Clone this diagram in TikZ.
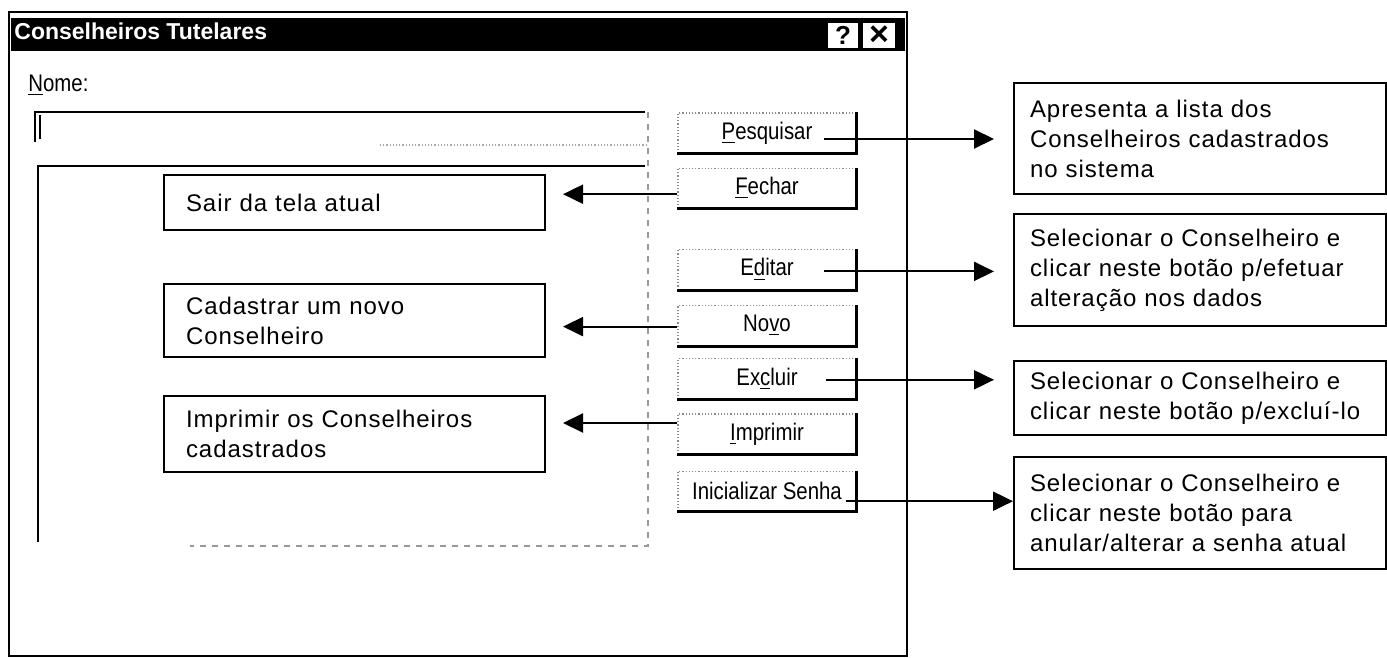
\documentclass[tikz,border=0pt]{standalone}
\usepackage{fontspec}
\setmainfont{Liberation Sans}
\newfontfamily\notefont[LetterSpace=4]{Liberation Sans}
\newfontfamily\btnfont[FakeStretch=0.85]{Liberation Sans}
\usetikzlibrary{arrows.meta,positioning,calc}

\begin{document}
\begin{tikzpicture}[
    x=0.5pt, y=-0.5pt,
    btn/.style={draw=black!45, densely dotted, line width=0.6pt, minimum width=89pt, minimum height=20pt, inner sep=0pt, font=\btnfont\fontsize{12pt}{14pt}\selectfont},
    btnedge/.style={line width=1.5pt, solid},
    note/.style={draw, line width=1pt, align=left, inner ysep=0pt, anchor=west, font=\notefont\fontsize{12pt}{15pt}\selectfont},
    lnote/.style={note, text width=168.5pt, inner xsep=11pt},
    rnote/.style={note, text width=170pt, inner xsep=8pt},
    arr/.style={-{Triangle[length=10pt,width=9.5pt]}, line width=1pt}
]
    \useasboundingbox (0,0) rectangle (1387,658);

    % Window
    \draw[line width=1pt] (9,12) rectangle (907,656);
    \fill (11,18) rectangle (905,51);
    \node[anchor=base west, inner sep=0pt, text=white, font=\bfseries\fontsize{11.5pt}{13pt}\selectfont] (title) at (14,40) {Conselheiros Tutelares};
    \node[fill=white, minimum width=15pt, minimum height=12.5pt, inner sep=0pt, font=\bfseries\fontsize{13pt}{13pt}\selectfont] (help) at (843,35.5) {?};
    \node[fill=white, minimum width=16pt, minimum height=12.5pt, inner sep=0pt, font=\bfseries\fontsize{17pt}{17pt}\selectfont] (close) at (879,35.5) {×};

    % Nome field and list
    \node[anchor=base west, inner sep=0pt, font=\btnfont\fontsize{12pt}{14pt}\selectfont] (nome) at (28,92) {\underline{N}ome:};
    \draw[line width=1pt] (35,142) -- (35,112) -- (645,112);
    \draw[line width=1.2pt] (40,115) -- (40,139);
    \draw[black!35, densely dotted, line width=0.6pt] (380,145) -- (648,145);
    \draw[line width=1pt] (38,542) -- (38,166) -- (645,166);
    \draw[black!40, dashed, line width=0.6pt] (648,112) -- (648,546) -- (190,546);

    % Buttons
    \node[btn] (pesq) at (767,133) {\underline{P}esquisar};
    \node[btn, below=7pt of pesq] (fech) {\underline{F}echar};
    \node[btn, below=20pt of fech] (edit) {E\underline{d}itar};
    \node[btn, below=7.5pt of edit] (novo) {No\underline{v}o};
    \node[btn, below=6pt of novo] (excl) {Ex\underline{c}luir};
    \node[btn, below=7pt of excl] (impr) {\underline{I}mprimir};
    \node[btn, below=8pt of impr] (inic) {Inicializar Senha};
    \foreach \b in {pesq,fech,edit,novo,excl,impr,inic}
        \draw[btnedge] (\b.north east) -- (\b.south east) -- (\b.south west);

    % Notes left
    \node[lnote, minimum height=27.5pt] (sair) at (163,202.5) {Sair da tela atual};
    \node[lnote, minimum height=36.5pt] (cad) at (163,320.5) {Cadastrar um novo\\Conselheiro};
    \node[lnote, minimum height=38pt] (imprn) at (163,434) {Imprimir os Conselheiros\\cadastrados};

    % Notes right
    \node[rnote, minimum height=55.5pt] (ap1) at (1013,138.5) {Apresenta a lista dos\\Conselheiros cadastrados\\no sistema};
    \node[rnote, minimum height=56pt] (ap2) at (1013,270) {Selecionar o Conselheiro e\\clicar neste botão p/efetuar\\alteração nos dados};
    \node[rnote, minimum height=37pt] (ap3) at (1013,398) {Selecionar o Conselheiro e\\clicar neste botão p/excluí-lo};
    \node[rnote, minimum height=56pt] (ap4) at (1013,513) {Selecionar o Conselheiro e\\clicar neste botão para\\anular/alterar a senha atual};

    % Arrows
    \coordinate (pesq-o) at ($(pesq.east)+(-33,6)$);
    \coordinate (edit-o) at ($(edit.east)+(-33,2)$);
    \coordinate (excl-o) at ($(excl.east)+(-31,1)$);
    \coordinate (inic-o) at ($(inic.east)+(-11,10)$);
    \coordinate (fech-o) at ($(fech.west)+(0,6)$);
    \coordinate (novo-o) at ($(novo.west)+(0,1)$);
    \coordinate (impr-o) at ($(impr.west)+(0,-11)$);

    \draw[arr, shorten >=9.5pt] (pesq-o) -- (pesq-o -| ap1.west);
    \draw[arr, shorten >=9.5pt] (edit-o) -- (edit-o -| ap2.west);
    \draw[arr, shorten >=9.5pt] (excl-o) -- (excl-o -| ap3.west);
    \draw[arr] (inic-o) -- (inic-o -| ap4.west);

    \draw[arr, shorten >=8.5pt] (fech-o) -- (fech-o -| sair.east);
    \draw[arr, shorten >=8.5pt] (novo-o) -- (novo-o -| cad.east);
    \draw[arr, shorten >=8.5pt] (impr-o) -- (impr-o -| imprn.east);
\end{tikzpicture}
\end{document}
